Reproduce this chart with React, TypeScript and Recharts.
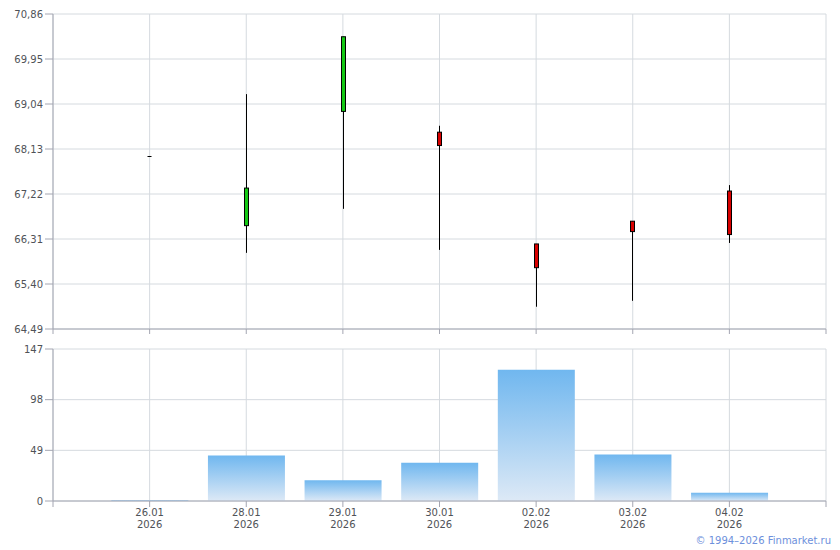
import { ComposedChart, Bar, XAxis, YAxis, CartesianGrid } from 'recharts';

// Даты торговых дней (позиции 1..7 на оси, 0 и 8 — пустые поля по краям)
const dates = ['26.01', '28.01', '29.01', '30.01', '02.02', '03.02', '04.02'];
const years = ['2026', '2026', '2026', '2026', '2026', '2026', '2026'];

// OHLC
const opens = [67.99, 66.58, 68.89, 68.47, 66.21, 66.67, 67.28];
const highs = [67.99, 69.24, 70.4, 68.6, 66.21, 66.67, 67.4];
const lows = [67.99, 66.03, 66.92, 66.09, 64.94, 65.06, 66.23];
const closes = [67.99, 67.34, 70.4, 68.2, 65.73, 66.46, 66.4];

// Объём
const volumes = [1, 44, 20, 37, 127, 45, 8];

const priceTicks = [64.49, 65.4, 66.31, 67.22, 68.13, 69.04, 69.95, 70.86];
const volumeTicks = [0, 49, 98, 147];
const slotTicks = [0, 1, 2, 3, 4, 5, 6, 7, 8];

const FONT = '"DejaVu Sans", Verdana, sans-serif';
const TEXT = '#4f5257';
const AXIS = '#a4a6b2';
const GRID = '#d5dadf';
const UP = '#14c814';
const DOWN = '#d80000';

const data = dates.map((d, i) => ({
  pos: i + 1,
  open: opens[i],
  high: highs[i],
  low: lows[i],
  close: closes[i],
  volume: volumes[i],
}));

const fmtPrice = (v: number) => v.toFixed(2).replace('.', ',');

function Candle(props: any) {
  const { x, y, width, height, payload } = props;
  const { open, close, high, low } = payload;
  const cx = Math.round(x + width / 2) + 0.5;
  const py = (v: number) => (high === low ? y : y + ((high - v) / (high - low)) * height);
  if (high === low) {
    return <line x1={cx - 2} x2={cx + 2} y1={Math.round(y) + 0.5} y2={Math.round(y) + 0.5} stroke="#000" strokeWidth={1} />;
  }
  const top = py(Math.max(open, close));
  const bottom = py(Math.min(open, close));
  return (
    <g>
      <line x1={cx} x2={cx} y1={py(high)} y2={py(low)} stroke="#000" strokeWidth={1} />
      <rect
        x={cx - 2}
        y={top}
        width={4}
        height={Math.max(bottom - top, 1)}
        fill={close >= open ? UP : DOWN}
        stroke="#000"
        strokeWidth={1}
      />
    </g>
  );
}

function DateTick(props: any) {
  const { x, y, payload } = props;
  const i = payload.value - 1;
  if (i < 0 || i >= dates.length) return null;
  return (
    <text x={x} y={y} textAnchor="middle" fontSize={10} fontFamily={FONT} fill={TEXT}>
      <tspan x={x} dy="0.71em">{dates[i]}</tspan>
      <tspan x={x} dy="1.2em">{years[i]}</tspan>
    </text>
  );
}

export default function App() {
  return (
    <div style={{ position: 'absolute', left: 0, top: 0, width: 840, height: 550, background: '#fff' }}>
      <div style={{ position: 'absolute', left: 0, top: 0 }}>
        <ComposedChart width={840} height={340} data={data} margin={{ top: 14, right: 14, bottom: 3, left: 0 }}>
          <CartesianGrid stroke={GRID} />
          <XAxis
            dataKey="pos"
            type="number"
            domain={[0, 8]}
            ticks={slotTicks}
            tickFormatter={() => ''}
            height={8}
            tickSize={5}
            stroke={AXIS}
          />
          <YAxis
            type="number"
            domain={[64.49, 70.86]}
            ticks={priceTicks}
            tickFormatter={fmtPrice}
            width={53}
            tickSize={8}
            tickMargin={2}
            stroke={AXIS}
            allowDataOverflow
            tick={{ fontSize: 10, fontFamily: FONT, fill: TEXT }}
          />
          <Bar dataKey={(d: any) => [d.low, d.high]} barSize={8} shape={Candle} isAnimationActive={false} />
        </ComposedChart>
      </div>
      <div style={{ position: 'absolute', left: 0, top: 340 }}>
        <ComposedChart width={840} height={210} data={data} margin={{ top: 9, right: 14, bottom: 9, left: 0 }}>
          <defs>
            <linearGradient id="volGrad" x1="0" y1="0" x2="0" y2="1">
              <stop offset="0%" stopColor="#70b7ef" />
              <stop offset="100%" stopColor="#dde9f6" />
            </linearGradient>
          </defs>
          <CartesianGrid stroke={GRID} />
          <XAxis
            dataKey="pos"
            type="number"
            domain={[0, 8]}
            ticks={slotTicks}
            height={40}
            tickSize={6}
            tickMargin={2}
            stroke={AXIS}
            tick={<DateTick />}
          />
          <YAxis
            type="number"
            domain={[0, 147]}
            ticks={volumeTicks}
            width={53}
            tickSize={8}
            tickMargin={2}
            stroke={AXIS}
            tick={{ fontSize: 10, fontFamily: FONT, fill: TEXT }}
          />
          <Bar dataKey="volume" barSize={77} fill="url(#volGrad)" isAnimationActive={false} />
        </ComposedChart>
      </div>
      <div
        style={{
          position: 'absolute',
          right: 9,
          top: 535,
          fontFamily: FONT,
          fontSize: 10,
          color: '#6d90dc',
          whiteSpace: 'nowrap',
        }}
      >
        © 1994–2026 Finmarket.ru
      </div>
    </div>
  );
}
